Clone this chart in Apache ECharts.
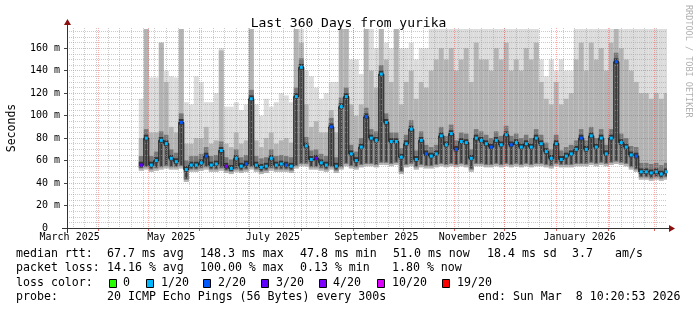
<!DOCTYPE html>
<html><head><meta charset="utf-8">
<script src="https://cdn.jsdelivr.net/npm/echarts@6/dist/echarts.min.js"></script>
<style>html,body{margin:0;padding:0;background:#fff}#c{width:697px;height:310px}</style>
</head><body><div id="c"></div>
<script>
const DAY = 86400000;
const endTime = Date.UTC(2026, 2, 8, 10, 20, 53);
const startTime = endTime - 360 * DAY;
const binStart = Date.UTC(2025, 3, 25, 12, 0, 0);
const binDays = 3;

// median rtt per 3-day bin (ms)
const medianRtt = [56,80,56,60,78,75,62,59,94,52,
 56,56,58,64,56,57,69,55,53,62,
 55,57,115,56,54,55,62,56,57,56,
 55,117,143,73,61,62,58,56,90,55,
 108,117,66,60,72,99,80,78,137,94,
 77,77,63,75,88,61,78,66,64,66,
 82,74,84,70,77,76,62,80,78,75,
 72,78,74,83,74,76,72,75,72,80,
 75,68,62,75,61,64,66,70,80,70,
 82,72,80,66,80,148,76,72,65,64,
 50,50,49,50,48,50];
// lowest ping per bin (ms)
const pingLow = [51,52,50,51,52,53,52,52,53,41,
 50,50,51,52,50,50,51,49,48,50,
 49,50,52,50,48,49,51,50,50,50,
 49,53,55,55,52,52,51,50,52,49,
 52,55,53,52,54,55,55,54,56,56,
 55,56,48,54,55,52,54,53,53,54,
 55,54,55,54,55,54,50,55,55,54,
 54,55,54,55,54,55,54,55,54,55,
 55,54,53,55,54,54,54,55,55,55,
 56,55,56,55,56,57,56,55,52,50,
 43,43,42,43,42,43];
// upper edge of the denser smoke (ms)
const pingUpper = [80,177,85,85,165,130,90,85,177,75,
 75,80,80,90,75,78,158,75,72,85,
 75,78,177,78,72,80,85,75,78,80,
 76,177,165,110,90,95,85,85,105,85,
 177,177,110,100,110,177,140,125,177,150,
 130,177,110,130,140,115,130,125,140,150,
 160,150,160,140,150,160,130,165,150,150,
 140,160,150,165,140,150,140,160,150,165,
 130,115,110,130,110,115,120,150,165,140,
 165,150,160,140,165,177,160,150,140,130,
 120,120,115,120,115,120];
// highest ping per bin (ms)
const pingHigh = [115,177,134,134,165,140,135,134,177,112,
 110,135,130,112,112,120,160,108,108,112,
 105,110,177,110,100,115,108,112,120,118,
 112,177,177,140,135,125,115,120,130,130,
 177,177,150,150,137,177,177,160,177,165,
 160,177,160,160,165,150,160,160,177,177,
 177,177,177,177,177,177,177,177,177,177,
 177,177,177,177,177,177,177,177,177,177,
 150,135,150,140,150,140,140,177,177,177,
 177,177,177,177,177,177,177,177,177,177,
 177,177,177,177,177,177];
// loss colour index per bin
const lossLevel = [3,1,1,1,1,1,1,1,2,1,
 1,1,1,2,1,1,1,4,1,1,
 1,2,1,1,1,1,1,1,1,2,
 1,1,1,1,1,3,1,1,2,1,
 1,1,1,1,1,2,1,1,1,1,
 1,1,1,1,1,1,1,2,1,1,
 1,1,1,2,1,1,1,1,1,1,
 2,1,1,1,2,1,1,1,1,1,
 1,1,1,1,1,1,1,1,2,1,
 1,1,1,1,1,2,1,1,1,2,
 1,1,1,1,1,1];

const monthStarts = ['2025-04-01','2025-05-01','2025-06-01','2025-07-01','2025-08-01','2025-09-01',
 '2025-10-01','2025-11-01','2025-12-01','2026-01-01','2026-02-01','2026-03-01'];
const monthLabelDates = ['2025-03-15','2025-05-15','2025-07-15','2025-09-15','2025-11-15','2026-01-15'];
const monthLabels = ['March 2025','May 2025','July 2025','September 2025','November 2025','January 2026'];
const yTicks = [0,20,40,60,80,100,120,140,160];
const yTickLabels = ['0\u00a0\u00a0','20 m','40 m','60 m','80 m','100 m','120 m','140 m','160 m'];
const lossColors = ['#26ff00','#00b8ff','#0059ff','#5e00ff','#7e00ff','#dd00ff','#ff0000'];
const lossNames = ['0','1/20','2/20','3/20','4/20','10/20','19/20'];
const statLines = [
  [[16,'median rtt:'],[107,'67.7 ms avg'],[200,'148.3 ms max'],[300,'47.8 ms min'],[393,'51.0 ms now'],[487,'18.4 ms sd'],[572,'3.7'],[615,'am/s']],
  [[16,'packet loss:'],[107,'14.16 % avg'],[200,'100.00 % max'],[300,'0.13 % min'],[392,'1.80 % now']],
  [[16,'loss color:']],
  [[16,'probe:'],[107,'20 ICMP Echo Pings (56 Bytes) every 300s'],[478,'end: Sun Mar  8 10:20:53 2026']]
];

// layout constants
const GL = 67, GR = 667, GT = 28, GB = 228;
const MONO = '"DejaVu Sans Mono", monospace';
const LEG_FONT = '11.6px ' + MONO;

const weekTicks = [];
for (let t = Date.UTC(2025, 2, 17); t <= endTime; t += 7 * DAY) weekTicks.push(t);
const monthTicks = monthStarts.map(s => Date.parse(s + 'T00:00:00Z'));
const labelTicks = monthLabelDates.map(s => Date.parse(s + 'T00:00:00Z'));
const yMinor = [];
for (let v = 5; v < 178; v += 5) if (v % 20) yMinor.push(v);

const smokeData = medianRtt.map((m, i) => [binStart + i * binDays * DAY, pingLow[i], m, pingUpper[i], pingHigh[i]]);
const medianData = medianRtt.map((m, i) => ({
  value: [binStart + (i + 0.5) * binDays * DAY, m],
  itemStyle: { color: lossColors[lossLevel[i]] }
}));

const minorLine = { color: 'rgba(160,160,160,0.55)', width: 1, type: [1, 1] };
const majorLine = { color: 'rgba(255,50,50,0.42)', width: 1, type: [1, 1] };

const chart = echarts.init(document.getElementById('c'), null, { renderer: 'canvas' });

const graphics = [];
graphics.push({ type: 'line', z: 50, shape: { x1: GL - 5, y1: GB + 0.5, x2: GR + 5, y2: GB + 0.5 }, style: { stroke: '#333', lineWidth: 1 } });
graphics.push({ type: 'line', z: 50, shape: { x1: GL + 0.5, y1: GB + 5, x2: GL + 0.5, y2: GT - 5 }, style: { stroke: '#333', lineWidth: 1 } });
graphics.push({ type: 'polygon', z: 51, shape: { points: [[GR + 2, GB - 3], [GR + 2, GB + 4], [GR + 8, GB + 0.5]] }, style: { fill: '#8b1010' } });
graphics.push({ type: 'polygon', z: 51, shape: { points: [[GL - 3, GT - 3], [GL + 4, GT - 3], [GL + 0.5, GT - 9]] }, style: { fill: '#8b1010' } });
const lineY = [254, 268, 282.5, 296.5];
statLines.forEach((items, li) => {
  items.forEach(([x, txt]) => {
    graphics.push({ type: 'text', x: x, y: lineY[li], style: { text: txt, font: LEG_FONT, fill: '#000', verticalAlign: 'middle', textAlign: 'left' } });
  });
});
const boxX = [109, 146, 203, 261, 319, 377, 442];
const boxLabelX = [123, 161, 218, 276, 333, 392, 457];
lossColors.forEach((c, i) => {
  graphics.push({ type: 'rect', shape: { x: boxX[i] + 0.5, y: 279.5, width: 7, height: 8 }, style: { fill: c, stroke: '#000', lineWidth: 1 } });
  graphics.push({ type: 'text', x: boxLabelX[i], y: 282.5, style: { text: lossNames[i], font: LEG_FONT, fill: '#000', verticalAlign: 'middle' } });
});
graphics.push({ type: 'text', x: 688, y: 5, rotation: -Math.PI / 2, style: { text: 'RRDTOOL / TOBI OETIKER', font: '8.5px ' + MONO, fill: '#b0b0b0', verticalAlign: 'middle', textAlign: 'left' } });

const timeAxisBase = { type: 'value', min: startTime, max: endTime, position: 'bottom', axisLine: { show: false }, z: 5 };

chart.setOption({
  animation: false,
  backgroundColor: '#fff',
  title: { text: 'Last 360 Days from yurika', left: 'center', top: 12, textStyle: { fontFamily: MONO, fontSize: 13, fontWeight: 'normal', color: '#000' } },
  grid: { left: GL, right: 697 - GR, top: GT, bottom: 310 - GB, containLabel: false, outerBoundsMode: 'none' },
  xAxis: [
    Object.assign({}, timeAxisBase, {
      axisTick: { show: false, customValues: weekTicks },
      axisLabel: { show: false, customValues: weekTicks },
      splitLine: { show: true, lineStyle: minorLine }
    }),
    Object.assign({}, timeAxisBase, {
      axisTick: { show: true, customValues: monthTicks, length: 3, lineStyle: { color: '#e06060' } },
      axisLabel: { show: false, customValues: monthTicks },
      splitLine: { show: true, lineStyle: majorLine }
    }),
    Object.assign({}, timeAxisBase, {
      axisTick: { show: false, customValues: labelTicks },
      axisLabel: {
        show: true, customValues: labelTicks, margin: 4,
        formatter: v => { const k = labelTicks.indexOf(v); return k >= 0 ? monthLabels[k] : ''; },
        fontFamily: MONO, fontSize: 10, color: '#000'
      },
      splitLine: { show: false }
    })
  ],
  yAxis: [
    { type: 'value', min: 0, max: 178, position: 'left', axisLine: { show: false }, z: 5,
      axisTick: { show: false, customValues: yMinor }, axisLabel: { show: false, customValues: yMinor },
      splitLine: { show: true, lineStyle: minorLine } },
    { type: 'value', min: 0, max: 178, position: 'left', axisLine: { show: false }, z: 5,
      axisTick: { show: true, customValues: yTicks, length: 3, lineStyle: { color: '#444' } },
      axisLabel: { show: true, customValues: yTicks, margin: 7,
        formatter: v => { const k = yTicks.indexOf(v); return k >= 0 ? yTickLabels[k] : ''; },
        fontFamily: MONO, fontSize: 10, color: '#000' },
      splitLine: { show: true, lineStyle: majorLine },
      name: 'Seconds', nameLocation: 'middle', nameGap: 49, nameRotate: 90,
      nameTextStyle: { fontFamily: MONO, fontSize: 11.5, color: '#000' } }
  ],
  series: [
    {
      type: 'custom', xAxisIndex: 0, yAxisIndex: 0, clip: true, z: 2,
      encode: { x: 0, y: [1, 4] },
      data: smokeData,
      renderItem: function (params, api) {
        const t0 = api.value(0), t1 = t0 + binDays * DAY;
        const lo = api.value(1), med = api.value(2), up = api.value(3), hi = api.value(4);
        const xa = api.coord([t0, 0])[0], xb = api.coord([t1, 0])[0];
        const Y = v => api.coord([t0, v])[1];
        const w = xb - xa;
        const rect = (a, b, col, x0, ww) => ({ type: 'rect', shape: { x: x0 === undefined ? xa : x0, y: Y(b), width: ww === undefined ? w : ww, height: Y(a) - Y(b) }, style: { fill: col } });
        return { type: 'group', children: [
          rect(lo, hi, '#dcdcdc'),
          rect(lo, up, '#b4b4b4'),
          rect(lo + 2, med + 8, '#787878'),
          rect(med - 2, med + 3, '#353535'),
          rect(lo + 3, med, '#3a3a3a', xa + w / 2 - 1, 2)
        ] };
      }
    },
    {
      type: 'line', xAxisIndex: 0, yAxisIndex: 0, z: 10,
      step: 'middle', data: medianData,
      symbol: 'rect', symbolSize: [3, 3], showAllSymbol: true,
      lineStyle: { color: '#111', width: 1 }
    }
  ],
  graphic: graphics
});
</script>
</body></html>
